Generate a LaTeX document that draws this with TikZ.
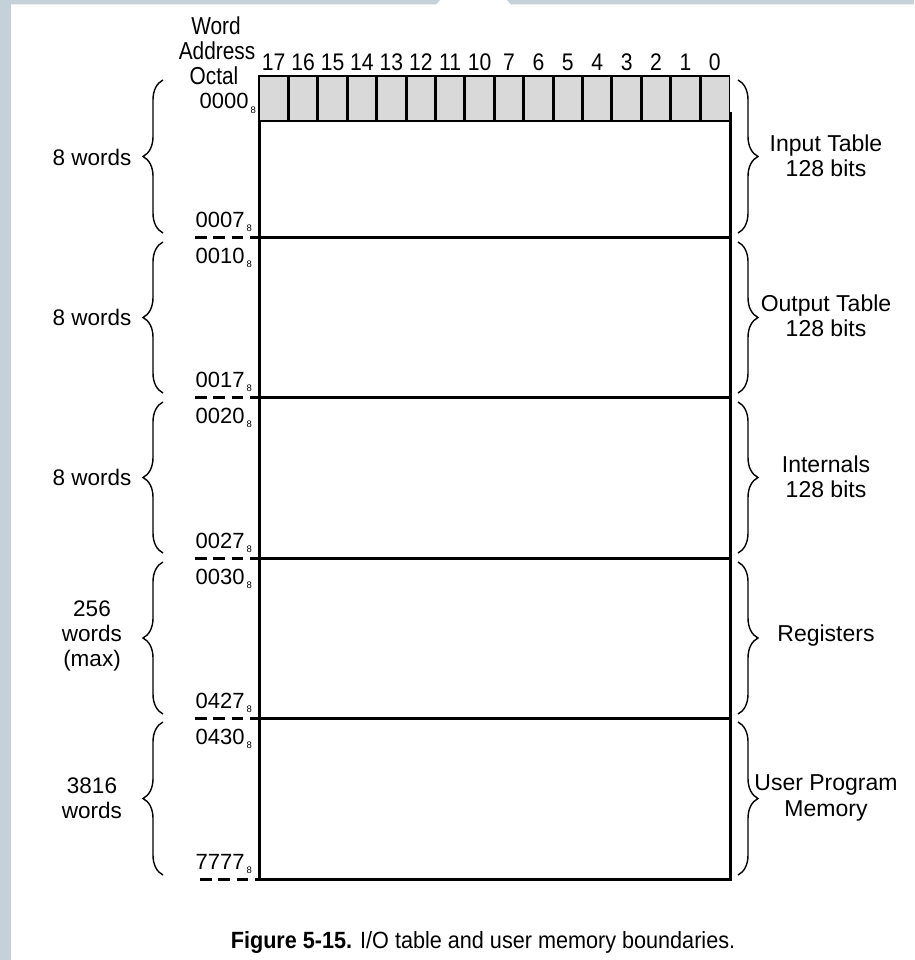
\documentclass[tikz,border=0pt]{standalone}
\usepackage{fontspec}
\setmainfont{Liberation Sans}
\newfontfamily\narrowfont{Liberation Sans}[FakeStretch=0.85]
\newfontfamily\digitfont{Liberation Sans}[FakeStretch=0.88]
\newfontfamily\capfont{Liberation Sans}[FakeStretch=0.92]
\usetikzlibrary{decorations.pathreplacing}
\definecolor{stripgray}{HTML}{C5D1D8}
\definecolor{cellgray}{HTML}{D9D9D9}
\newcommand\oct[1]{#1\hspace{2pt}\raisebox{-4.5pt}{\fontsize{9.5}{9.5}\selectfont 8}}
\begin{document}
\begin{tikzpicture}[x=1pt,y=-1pt,
  thickline/.style={line width=3pt},
  cellrow/.style={draw=black, line width=1.6pt, fill=cellgray},
  divider/.style={line width=3pt},
  dashline/.style={line width=3pt, dash pattern=on 11.5pt off 6.8pt},
  lbrace/.style={decorate, decoration={brace, amplitude=20pt}, line width=1.4pt},
  lab/.style={font=\fontsize{22.5}{25}\selectfont, align=center, inner sep=0pt},
  rlab/.style={font=\fontsize{23}{25.5}\selectfont, align=center, inner sep=0pt},
  addr/.style={font=\fontsize{22}{22}\selectfont, anchor=base east, inner sep=0pt},
  bit/.style={font=\digitfont\fontsize{24}{24}\selectfont, anchor=base, inner sep=0pt},
  hdr/.style={font=\narrowfont\fontsize{24.5}{24.5}\selectfont, anchor=base, inner sep=0pt},
  captext/.style={font=\capfont\fontsize{23.5}{23.5}\selectfont, anchor=base, inner sep=0pt},
]
\useasboundingbox (0,0) rectangle (914,960);
\fill[white] (0,0) rectangle (914,960);
% background strips
\fill[stripgray] (0,0) rectangle (11,960);
\fill[stripgray] (0,0) -- (440,0) -- (436,4.5) -- (0,4.5) -- cycle;
\fill[stripgray] (507,0) -- (914,0) -- (914,4.5) -- (511,4.5) -- cycle;

% header
\node[hdr] (hword) at (216,35) {Word};
\node[hdr] (haddr) at (217,60) {Address};
\node[hdr] (hoct) at (214,85) {Octal};

% gray bit row
\coordinate (rowNW) at (259,76);
\coordinate (rowSE) at (729.5,121);
\draw[cellrow] (rowNW) rectangle (rowSE);
\foreach \k in {1,...,15} {
  \draw[divider] ({259+29.41*\k},76) -- ({259+29.41*\k},121);
}
\foreach \lbl [count=\k from 0] in {17,16,15,14,13,12,11,10,7,6,5,4,3,2,1,0} {
  \node[bit] (bit\k) at ({259+29.41*(\k+0.5)},71) {\lbl};
}

% main frame
\coordinate (fTL) at (259,121);
\coordinate (fBL) at (259,879);
\coordinate (fBR) at (730,879);
\coordinate (fTR) at (730,112);
\draw[thickline] (fTL) -- (fBL) -- (fBR) -- (fTR);
\foreach \y in {237,397,558,718} {
  \draw[thickline] (259,\y) -- (730,\y);
  \draw[dashline] (195,\y) -- (258,\y);
}
\draw[dashline] (200,879) -- (258,879);

% address labels
\node[addr] (a0000) at (256,109) {\oct{0000}};
\node[addr] (a0007) at (252,227) {\oct{0007}};
\node[addr] (a0010) at (252,263) {\oct{0010}};
\node[addr] (a0017) at (252,387) {\oct{0017}};
\node[addr] (a0020) at (252,423) {\oct{0020}};
\node[addr] (a0027) at (252,548) {\oct{0027}};
\node[addr] (a0030) at (252,584) {\oct{0030}};
\node[addr] (a0427) at (252,708) {\oct{0427}};
\node[addr] (a0430) at (252,744) {\oct{0430}};
\node[addr] (a7777) at (252,869) {\oct{7777}};

% left braces
\draw[lbrace] (163,233) -- (163,80);
\draw[lbrace] (163,393) -- (163,242);
\draw[lbrace] (163,553) -- (163,402);
\draw[lbrace] (163,714) -- (163,562);
\draw[lbrace] (163,875) -- (163,722);

% right braces
\draw[lbrace] (738,80) -- (738,233);
\draw[lbrace] (738,242) -- (738,393);
\draw[lbrace] (738,402) -- (738,553);
\draw[lbrace] (738,562) -- (738,714);
\draw[lbrace] (738,722) -- (738,875);

% left labels
\node[lab] (l1) at (92,157) {8 words};
\node[lab] (l2) at (92,317) {8 words};
\node[lab] (l3) at (92,477) {8 words};
\node[lab] (l4) at (92,636) {256\\words\\(max)};
\node[lab] (l5) at (92,798) {3816\\words};

% right labels
\node[rlab] (r1) at (826,156) {Input Table\\128 bits};
\node[rlab] (r2) at (826,316) {Output Table\\128 bits};
\node[rlab] (r3) at (826,477) {Internals\\128 bits};
\node[rlab] (r4) at (826,636) {Registers};
\node[rlab] (r5) at (826,798) {User Program\\Memory};

% caption
\node[captext] (caption) at (483,948) {\textbf{Figure 5-15.} I/O table and user memory boundaries.};
\end{tikzpicture}
\end{document}
